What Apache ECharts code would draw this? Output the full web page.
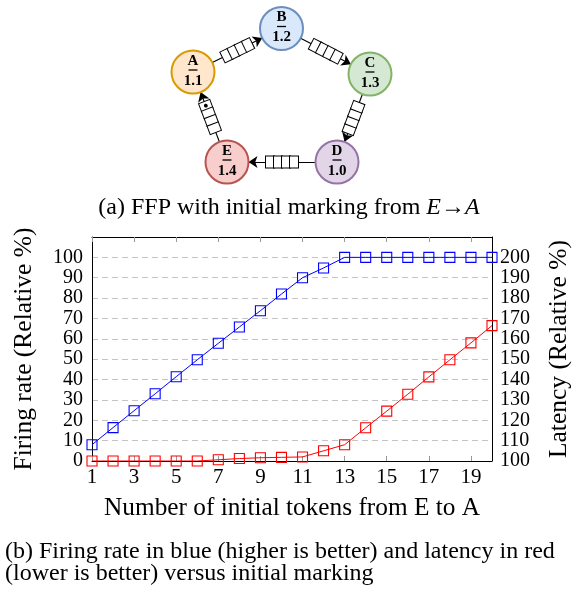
<!DOCTYPE html>
<html><head><meta charset="utf-8">
<script src="https://cdn.jsdelivr.net/npm/echarts@6/dist/echarts.min.js"></script>
<style>html,body{margin:0;padding:0;background:#fff}#c{width:573px;height:589px}</style>
</head><body><div id="c"></div>
<script>
// ---- chart data ----
const tokens = ['1','2','3','4','5','6','7','8','9','10','11','12','13','14','15','16','17','18','19','20'];
const firingRate = [8, 16.4, 24.7, 33, 41.4, 49.7, 57.8, 65.8, 73.8, 82, 90, 94.8, 100, 100, 100, 100, 100, 100, 100, 100];
const latency = [100, 100, 100, 100, 100, 100, 100.6, 101.2, 101.6, 101.8, 102, 105, 108, 116.3, 124.5, 132.8, 141.3, 149.7, 158, 166.5];
// ---- diagram data ----
const nodeNames = ['A', 'B', 'C', 'D', 'E'];
const nodeValues = ['1.1', '1.2', '1.3', '1.0', '1.4'];
const nodeX = [33, 121.5, 210, 177, 67];
const nodeY = [72, 28.5, 74, 162, 162];
const nodeFill = ['#ffe6cc', '#dae8fc', '#d5e8d4', '#e1d5e7', '#f8cecc'];
const nodeStroke = ['#d79b00', '#6c8ebf', '#82b366', '#9673a6', '#b85450'];
const edgeFrom = ['A', 'B', 'C', 'D', 'E'];
const edgeTo = ['B', 'C', 'D', 'E', 'A'];
const edgeTokens = [0, 0, 0, 0, 1];

const SERIF = '"Liberation Serif", "DejaVu Serif", serif';

const chart = echarts.init(document.getElementById('c'), null, {renderer: 'canvas'});

const graphNodes = nodeNames.map((n, i) => ({
  name: n,
  value: [nodeX[i], nodeY[i]],
  itemStyle: {color: nodeFill[i], borderColor: nodeStroke[i], borderWidth: 2},
  label: {formatter: '{l|' + n + '}\n{u| }\n{v|' + nodeValues[i] + '}'}
}));
const graphLinks = edgeFrom.map((s, i) => ({
  source: s, target: edgeTo[i],
  label: {formatter: (edgeTokens[i] ? '{d|●}' : '{c| }') + '{c| }{c| }{c| }'}
}));

const cellStyle = {width: 8, height: 11, borderColor: '#000', borderWidth: 1, backgroundColor: '#fff', fontSize: 8, lineHeight: 11, padding: 0};

chart.setOption({
  animation: false,
  backgroundColor: '#fff',
  grid: [
    {left: 92, right: 81, top: 237, bottom: 128, containLabel: false, outerBoundsMode: 'none'},
    {left: 160, top: 0, width: 250, height: 190, containLabel: false, outerBoundsMode: 'none'}
  ],
  xAxis: [
    {
      type: 'category', gridIndex: 0, data: tokens, boundaryGap: false, position: 'bottom',
      axisLine: {show: true, lineStyle: {color: '#000', width: 1}},
      axisTick: {show: true, inside: true, interval: 1, length: 5, lineStyle: {color: '#999'}},
      axisLabel: {interval: 1, color: '#000', fontFamily: SERIF, fontSize: 21, lineHeight: 16, margin: 8, hideOverlap: false},
      splitLine: {show: false},
      name: 'Number of initial tokens from E to A', nameLocation: 'middle', nameGap: 35,
      nameTextStyle: {color: '#000', fontFamily: SERIF, fontSize: 25.3}
    },
    {
      type: 'category', gridIndex: 0, data: tokens, boundaryGap: false, position: 'top',
      axisLine: {show: true, lineStyle: {color: '#000', width: 1}},
      axisTick: {show: true, inside: true, interval: 1, length: 5, lineStyle: {color: '#999'}},
      axisLabel: {show: false}, splitLine: {show: false}
    },
    {type: 'value', gridIndex: 1, min: 0, max: 250, show: false}
  ],
  yAxis: [
    {
      type: 'value', gridIndex: 0, min: 0, max: 110, interval: 10, position: 'left',
      axisLine: {show: true, lineStyle: {color: '#000', width: 1}},
      axisTick: {show: false},
      axisLabel: {color: '#000', fontFamily: SERIF, fontSize: 20, margin: 9,
        formatter: v => (v > 100 ? '' : String(v))},
      splitLine: {show: true, lineStyle: {color: '#c4c4c4', type: [6, 4], width: 1}},
      name: 'Firing rate (Relative %)', nameLocation: 'middle', nameGap: 55, nameRotate: 90,
      nameTextStyle: {color: '#000', fontFamily: SERIF, fontSize: 25.5}
    },
    {
      type: 'value', gridIndex: 0, min: 100, max: 210, interval: 10, position: 'right',
      axisLine: {show: true, lineStyle: {color: '#000', width: 1}},
      axisTick: {show: false},
      axisLabel: {color: '#000', fontFamily: SERIF, fontSize: 20, margin: 8,
        formatter: v => (v > 200 ? '' : String(v))},
      splitLine: {show: false},
      name: 'Latency (Relative %)', nameLocation: 'middle', nameGap: 54, nameRotate: 90,
      nameTextStyle: {color: '#000', fontFamily: SERIF, fontSize: 25.5}
    },
    {type: 'value', gridIndex: 1, min: 0, max: 190, inverse: true, show: false}
  ],
  series: [
    {
      type: 'line', xAxisIndex: 0, yAxisIndex: 0, data: firingRate,
      symbol: 'rect', symbolSize: 10, showAllSymbol: true,
      itemStyle: {color: 'rgba(0,0,0,0)', borderColor: '#0000ff', borderWidth: 1.1},
      lineStyle: {color: '#0000ff', width: 1}, z: 4
    },
    {
      type: 'line', xAxisIndex: 0, yAxisIndex: 1, data: latency,
      symbol: 'rect', symbolSize: 10, showAllSymbol: true,
      itemStyle: {color: 'rgba(0,0,0,0)', borderColor: '#ff0000', borderWidth: 1.1},
      lineStyle: {color: '#ff0000', width: 1}, z: 4
    },
    {
      type: 'graph', coordinateSystem: 'cartesian2d', xAxisIndex: 2, yAxisIndex: 2,
      symbol: 'circle', symbolSize: 43,
      edgeSymbol: ['circle', 'arrow'], edgeSymbolSize: [0.1, 9],
      data: graphNodes, links: graphLinks,
      lineStyle: {color: '#000', width: 1.2, opacity: 1},
      label: {show: true, position: 'inside', color: '#000',
        rich: {
          l: {fontFamily: SERIF, fontWeight: 'bold', fontSize: 15, lineHeight: 14, color: '#000'},
          u: {width: 9, height: 1.3, backgroundColor: '#000', fontSize: 1, lineHeight: 4},
          v: {fontFamily: SERIF, fontWeight: 'bold', fontSize: 15, lineHeight: 18, color: '#000'}
        }},
      edgeLabel: {show: true, position: 'middle', distance: 0, verticalAlign: 'middle',
        rich: {
          c: cellStyle,
          d: Object.assign({}, cellStyle, {color: '#000', fontSize: 9, align: 'center'})
        }},
      emphasis: {disabled: true}
    }
  ],
  graphic: [
    {
      type: 'text', x: 289, y: 208,
      style: {
        text: '{n|(a) FFP with initial marking from }{i|E}{n|→}{i|A}',
        textAlign: 'center', textVerticalAlign: 'middle',
        rich: {
          n: {fontFamily: SERIF, fontSize: 24, fill: '#000'},
          i: {fontFamily: SERIF, fontSize: 24, fontStyle: 'italic', fill: '#000'}
        }
      }
    },
    {
      type: 'text', x: 5, y: 552,
      style: {text: '(b) Firing rate in blue (higher is better) and latency in red',
        fontFamily: SERIF, fontSize: 24, fill: '#000', textAlign: 'left', textVerticalAlign: 'middle'}
    },
    {
      type: 'text', x: 5, y: 574,
      style: {text: '(lower is better) versus initial marking',
        fontFamily: SERIF, fontSize: 24, fill: '#000', textAlign: 'left', textVerticalAlign: 'middle'}
    }
  ]
});
</script>
</body></html>
